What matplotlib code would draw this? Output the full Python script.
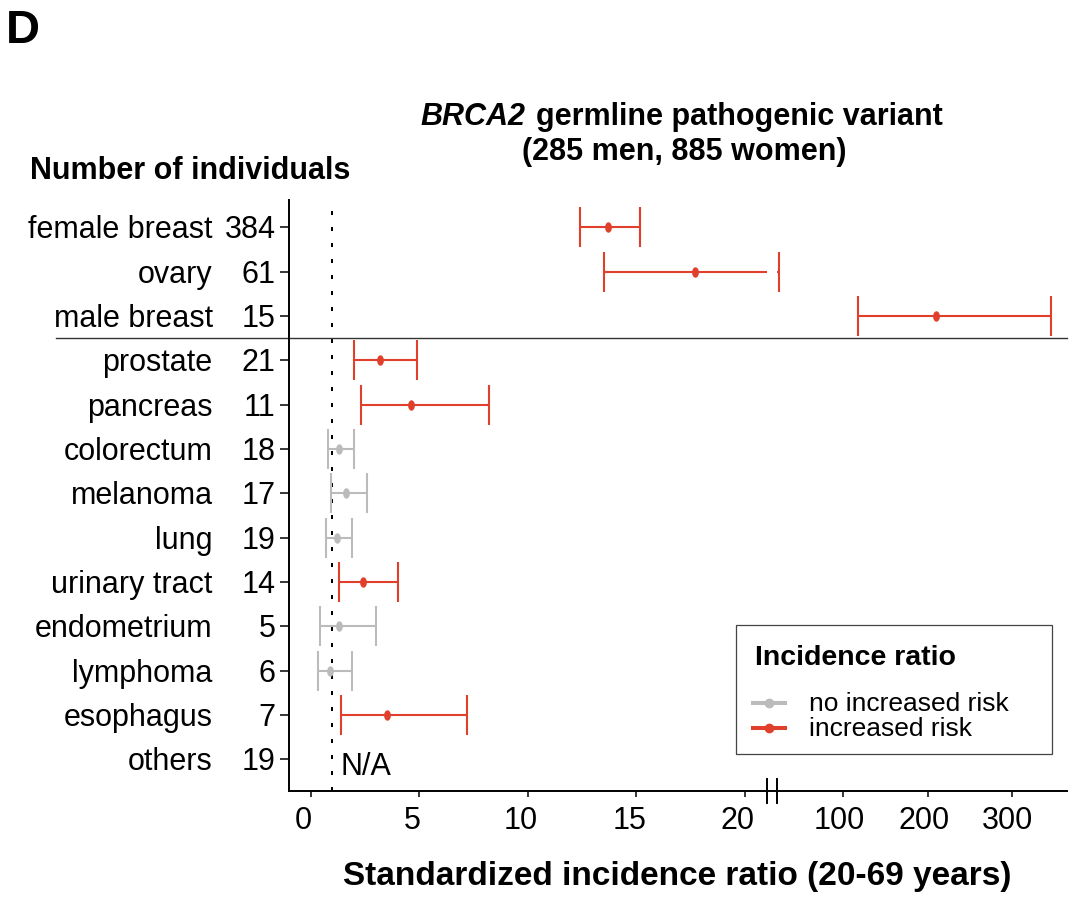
import numpy as np
import matplotlib
matplotlib.use("Agg")
import matplotlib.pyplot as plt
from matplotlib.path import Path
from matplotlib.markers import MarkerStyle
from matplotlib.patches import Rectangle
from matplotlib.lines import Line2D
import matplotlib.transforms as mtransforms

# ---------------- data ----------------
cancer_sites = ["female breast", "ovary", "male breast", "prostate", "pancreas",
                "colorectum", "melanoma", "lung", "urinary tract", "endometrium",
                "lymphoma", "esophagus", "others"]
n_individuals = [384, 61, 15, 21, 11, 18, 17, 19, 14, 5, 6, 7, 19]
sir = [13.71, 17.71, 210.0, 3.19, 4.61, 1.30, 1.61, 1.21, 2.41, 1.30, 0.90, 3.50, np.nan]
ci_lower = [12.41, 13.50, 117.8, 1.99, 2.30, 0.81, 0.92, 0.70, 1.32, 0.41, 0.31, 1.41, np.nan]
ci_upper = [15.19, 23.4, 346.0, 4.88, 8.22, 2.00, 2.61, 1.90, 4.01, 3.01, 1.90, 7.22, np.nan]
increased_risk = [True, True, True, True, True, False, False, False, True, False, False, True, None]
x_ticks = [0, 5, 10, 15, 20, 100, 200, 300]
x_ticklabels = ["0", "5", "10", "15", "20", "100", "200", "300"]

RED = "#E0402B"
GRAY = "#BBBBBB"
FONT = "Liberation Sans"
plt.rcParams["font.family"] = [FONT, "DejaVu Sans"]

W, H = 1080, 898
fig = plt.figure(figsize=(W / 100, H / 100), dpi=100)


def fx(px):
    return px / W


def fy(py):
    return 1 - py / H


# axes placement (pixels)
ax_left, ax_right, ax_top, ax_bottom = 289.3, 1067.0, 200.0, 790.7
ax = fig.add_axes([fx(ax_left), fy(ax_bottom), (ax_right - ax_left) / W, (ax_bottom - ax_top) / H])

# broken x scale: linear 0..~21, then compressed linear segment
BREAK = 21.01
A = 20.659
K = 0.038848


def fwd(v):
    v = np.asarray(v, dtype=float)
    return np.where(v <= BREAK, v, A + K * v)


def inv(u):
    u = np.asarray(u, dtype=float)
    lo = A + K * BREAK
    return np.where(u <= BREAK, u, np.where(u >= lo, (u - A) / K, BREAK))


ax.set_xscale("function", functions=(fwd, inv))
ax.set_xlim(-0.99, 365.3)
rows = np.arange(len(cancer_sites))
ax.set_ylim(12.708, -0.613)

# ellipse marker
theta = np.linspace(0, 2 * np.pi, 60)
ell = np.column_stack([0.65 * np.cos(theta), np.sin(theta)])
ell_marker = MarkerStyle(Path(ell, closed=True))

sir_a = np.array(sir)
lo_a = np.array(ci_lower)
hi_a = np.array(ci_upper)
for flag, col in [(False, GRAY), (True, RED)]:
    idx = [i for i, f in enumerate(increased_risk) if f is flag]
    ax.errorbar(sir_a[idx], rows[idx], xerr=[sir_a[idx] - lo_a[idx], hi_a[idx] - sir_a[idx]],
                fmt="none", ecolor=col, elinewidth=1.5, capsize=14.4, capthick=1.5, zorder=2)
    ax.plot(sir_a[idx], rows[idx], ls="none", marker=ell_marker, markersize=7.5,
            color=col, markeredgewidth=0, zorder=2.2)

# gap in the broken axis region
ax.add_patch(Rectangle((BREAK, 0.01), 0.3, 0.99, transform=ax.get_xaxis_transform(),
                       facecolor="white", edgecolor="none", zorder=3))

# reference line at SIR = 1
ax.axvline(1, color="black", lw=1.44, ls=(0, (2, 6)), zorder=1)

# separator between sex-specific and other sites
ax.axhline(2.5, xmin=(56 - ax_left) / (ax_right - ax_left), xmax=1, color="#333333",
           lw=1.0, clip_on=False, zorder=3.5)

# text offset: place baseline so cap centre sits on the row
base_off = mtransforms.ScaledTranslation(0, -11 / 100, fig.dpi_scale_trans)

# N/A text
ax.text(1.35, 12.1, "N/A", fontsize=22, va="baseline", ha="left",
        transform=ax.transData + base_off)

# spines and ticks
for s in ["top", "right"]:
    ax.spines[s].set_visible(False)
for s in ["left", "bottom"]:
    ax.spines[s].set_linewidth(1.4)
    ax.spines[s].set_zorder(4)

ax.set_xticks(x_ticks)
ax.set_xticklabels(x_ticklabels, fontsize=22)
ax.set_yticks(rows)
ax.set_yticklabels([])
ax.tick_params(axis="x", length=4, width=1.1, pad=7, direction="out")
ax.tick_params(axis="y", length=6.5, width=1.1, direction="out")

ytr = ax.get_yaxis_transform() + base_off
for r, name, n in zip(rows, cancer_sites, n_individuals):
    ax.text((212.7 - ax_left) / (ax_right - ax_left), r, name, transform=ytr,
            ha="right", va="baseline", fontsize=22, clip_on=False)
    ax.text((275.5 - ax_left) / (ax_right - ax_left), r, str(n), transform=ytr,
            ha="right", va="baseline", fontsize=22, clip_on=False)

# axis break marks
xtr = ax.get_xaxis_transform()
for xb in [BREAK, BREAK + 0.001]:
    ax.plot([xb, xb], [-0.02, 0.02], transform=xtr, color="black", lw=1.4,
            clip_on=False, zorder=5)

# shift tick labels slightly left as in reference
for lab, t in zip(ax.get_xticklabels(), x_ticks):
    dx = -7 if t <= 20 else -4
    lab.set_transform(lab.get_transform() +
                      mtransforms.ScaledTranslation(dx / 100, 0, fig.dpi_scale_trans))

# ---------------- texts ----------------
fig.text(fx(6), fy(43), "D", fontsize=34, weight="bold", ha="left", va="baseline")
fig.text(fx(30), fy(179), "Number of individuals", fontsize=22, weight="bold",
         ha="left", va="baseline")
fig.text(fx(420), fy(125), "BRCA2", fontsize=22, weight="bold", style="italic",
         ha="left", va="baseline")
fig.text(fx(943), fy(125), "germline pathogenic variant", fontsize=22, weight="bold",
         ha="right", va="baseline")
fig.text(fx(684), fy(160), "(285 men, 885 women)", fontsize=22, weight="bold",
         ha="center", va="baseline")
fig.text(fx(677), fy(885), "Standardized incidence ratio (20-69 years)", fontsize=24,
         weight="bold", ha="center", va="baseline")

# ---------------- legend ----------------
fig.add_artist(Rectangle((fx(736), fy(754)), (1052 - 736) / W, (754 - 625) / H,
                         transform=fig.transFigure, facecolor="white",
                         edgecolor="#444444", lw=0.9))
fig.text(fx(755), fy(665), "Incidence ratio", fontsize=20.5, weight="bold",
         ha="left", va="baseline")
for yk, col, lab in [(703, GRAY, "no increased risk"), (728, RED, "increased risk")]:
    fig.add_artist(Line2D([fx(753), fx(769), fx(785)], [fy(yk)] * 3, transform=fig.transFigure,
                          color=col, lw=2.9, marker="o", markersize=6, markevery=[1]))
    fig.text(fx(809), fy(yk + 8), lab, fontsize=19, ha="left", va="baseline")

fig.savefig("out.png", dpi=100)
